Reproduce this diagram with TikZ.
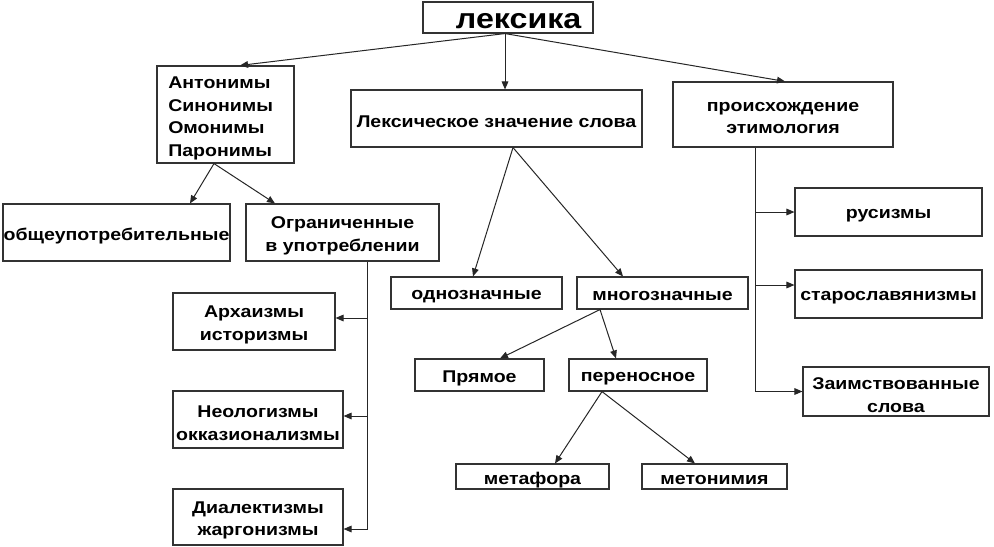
\documentclass[tikz,border=0pt]{standalone}
\usepackage{fontspec}
\setmainfont{Liberation Sans}[FakeStretch=1.15]
\usetikzlibrary{arrows.meta,calc}
% \bx[text options]{x1}{y1}{x2}{y2}{name}{text}
\newcommand\bx[7][]{%
  \node[box,minimum width={(#4-#2)*0.75pt},minimum height={(#5-#3)*0.75pt}] (#6) at ({(#2+#4)/2},{(#3+#5)/2}) {};
  \node[txt,#1] at (#6.center) {#7};}
\begin{document}
\begin{tikzpicture}[x=0.75pt,y=-0.75pt,
  box/.style={draw=black!80,line width=0.85pt,inner sep=0pt},
  txt/.style={inner sep=0pt,align=center,yshift=-2.6pt,
    font=\fontsize{12.75}{17}\selectfont\bfseries},
  arr/.style={draw=black!85,line width=0.75pt,-{Triangle[length=6pt,width=5pt]}}]
\useasboundingbox (0,0) rectangle (994,546);
\bx[font=\fontsize{21}{24}\selectfont\bfseries,xshift=8pt]{423}{2}{593}{33}{lex}{лексика}
\bx[xshift=-3.6pt]{157}{66}{294}{163}{ant}{\begin{tabular}{@{}l@{}}Антонимы\\Синонимы\\Омонимы\\Паронимы\end{tabular}}
\bx{351}{90}{642}{147}{lz}{Лексическое значение слова}
\bx{673}{82}{893}{147}{pro}{происхождение\\этимология}
\bx{3}{204}{230}{261}{obs}{общеупотребительные}
\bx{246}{204}{439}{261}{ogr}{Ограниченные\\в употреблении}
\bx{795}{188}{982}{236}{rus}{русизмы}
\bx{795}{270}{982}{318}{stsl}{старославянизмы}
\bx{803}{367}{989}{416}{zaim}{Заимствованные\\слова}
\bx{391}{277}{562}{309}{odn}{однозначные}
\bx{577}{277}{748}{309}{mnog}{многозначные}
\bx{173}{293}{335}{350}{arh}{Архаизмы\\историзмы}
\bx{173}{391}{343}{448}{neo}{Неологизмы\\окказионализмы}
\bx{173}{489}{343}{545}{dia}{Диалектизмы\\жаргонизмы}
\bx{415}{359}{544}{391}{pr}{Прямое}
\bx{569}{359}{707}{391}{per}{переносное}
\bx{456}{464}{609}{489}{met}{метафора}
\bx{642}{464}{787}{489}{mtn}{метонимия}
% top level
\coordinate (l0) at ($(lex.south)+(-3,0)$);
\draw[arr] (l0) -- ($(ant.north)+(14.5,0)$);
\draw[arr] (l0) -- (l0 |- lz.north);
\draw[arr] (l0) -- ($(pro.north)+(2,0)$);
% antonyms
\coordinate (a0) at ($(ant.south)+(-11.5,0)$);
\draw[arr] (a0) -- ($(obs.north)+(73.5,0)$);
\draw[arr] (a0) -- ($(ogr.north)+(-67.5,0)$);
% lexical meaning
\coordinate (z0) at ($(lz.south)+(16.5,0)$);
\draw[arr] (z0) -- ($(odn.north)+(-3.5,0)$);
\draw[arr] (z0) -- ($(mnog.north)+(-39.5,0)$);
% mnogoznachnye
\coordinate (m0) at ($(mnog.south)+(-62.5,0)$);
\draw[arr] (m0) -- ($(pr.north)+(20.5,0)$);
\draw[arr] (m0) -- ($(per.north)+(-22,0)$);
% perenosnoe
\coordinate (p0) at ($(per.south)+(-36,0)$);
\draw[arr] (p0) -- ($(met.north)+(22.5,0)$);
\draw[arr] (p0) -- ($(mtn.north)+(-19.5,0)$);
% ogranichennye trunk
\coordinate (t1) at ($(ogr.south)+(24.5,0)$);
\draw[arr] (t1) |- ($(dia.east)+(0,12)$);
\draw[arr] (t1 |- arh.east) ++(0,-3.5) -- ($(arh.east)+(0,-3.5)$);
\draw[arr] (t1 |- neo.east) ++(0,-3.5) -- ($(neo.east)+(0,-3.5)$);
% proiskhozhdenie trunk
\coordinate (t2) at ($(pro.south)+(-28,0)$);
\draw[arr] (t2) |- (zaim.west);
\draw[arr] (t2 |- rus.west) -- (rus.west);
\draw[arr] (t2 |- stsl.west) ++(0,-9) -- ($(stsl.west)+(0,-9)$);
\end{tikzpicture}
\end{document}
